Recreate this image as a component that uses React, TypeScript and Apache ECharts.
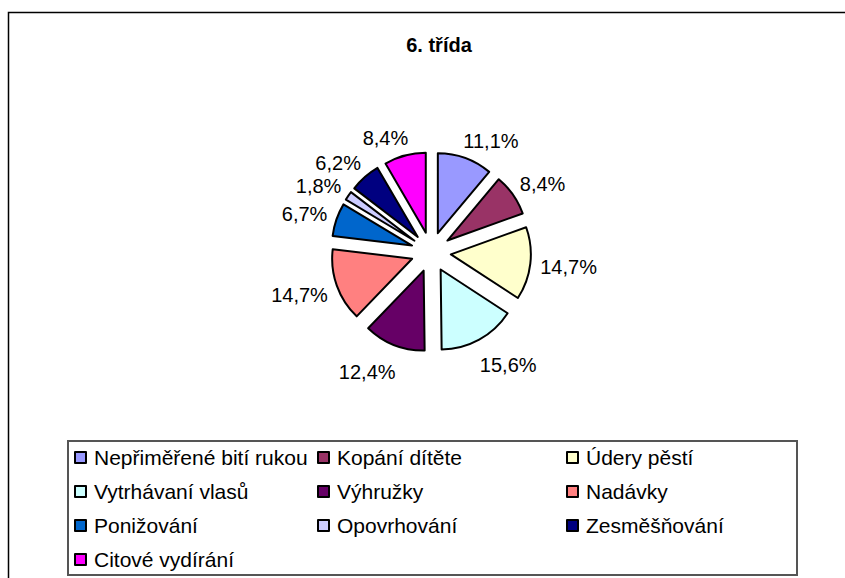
import React, { useEffect, useRef } from "react";
import * as echarts from "echarts";

const TITLE = "6. třída";
const categories = [
  "Nepřiměřené bití rukou",
  "Kopání dítěte",
  "Údery pěstí",
  "Vytrhávaní vlasů",
  "Výhružky",
  "Nadávky",
  "Ponižování",
  "Opovrhování",
  "Zesměšňování",
  "Citové vydírání",
];
const values = [11.1, 8.4, 14.7, 15.6, 12.4, 14.7, 6.7, 1.8, 6.2, 8.4];
const colors = [
  "#9999FF",
  "#993366",
  "#FFFFCC",
  "#CCFFFF",
  "#660066",
  "#FF8080",
  "#0066CC",
  "#CCCCFF",
  "#000080",
  "#FF00FF",
];
const legendColumns = [
  [categories[0], categories[3], categories[6], categories[9]],
  [categories[1], categories[4], categories[7]],
  [categories[2], categories[5], categories[8]],
];
const legendColumnLeft = [74, 317, 566];

const FONT = "'Liberation Sans', Arial, Helvetica, sans-serif";

export default function App() {
  const ref = useRef<HTMLDivElement>(null);
  useEffect(() => {
    if (!ref.current) return;
    const chart = echarts.init(ref.current, null, { renderer: "svg" });
    const total = values.reduce((a, b) => a + b, 0);
    // mid angle of each slice (radians, measured clockwise from 12 o'clock)
    const midAngles: number[] = [];
    let acc = 0;
    values.forEach((v) => {
      midAngles.push(((acc + v / 2) / total) * Math.PI * 2);
      acc += v;
    });
    const data = categories.map((name, i) => ({
      name,
      value: values[i],
      selected: true,
      itemStyle: { color: colors[i] },
    }));
    chart.setOption({
      animation: false,
      backgroundColor: "#ffffff",
      title: {
        text: TITLE,
        left: 434,
        textAlign: "center",
        top: 30,
        textStyle: {
          fontFamily: FONT,
          fontSize: 20,
          fontWeight: "bold",
          color: "#000",
        },
      },
      legend: legendColumns.map((col, i) => ({
        data: col,
        orient: "vertical",
        left: legendColumnLeft[i],
        top: 447,
        padding: 0,
        itemGap: 13,
        itemWidth: 11,
        itemHeight: 11,
        icon: "rect",
        selectedMode: false,
        itemStyle: { borderColor: "#000", borderWidth: 2 },
        textStyle: {
          fontFamily: FONT,
          fontSize: 21,
          lineHeight: 21,
          color: "#000",
          padding: [0, 0, 0, 3],
        },
      })),
      graphic: [
        {
          type: "rect",
          shape: { x: 8.5, y: 12.5, width: 900, height: 700 },
          style: { fill: "none", stroke: "#000", lineWidth: 1.5 },
          silent: true,
        },
        {
          type: "rect",
          shape: { x: 68, y: 441, width: 729, height: 134 },
          style: { fill: "none", stroke: "#555", lineWidth: 2 },
          silent: true,
        },
      ],
      series: [
        {
          type: "pie",
          center: [431, 252],
          radius: 80,
          startAngle: 90,
          clockwise: true,
          selectedMode: "multiple",
          selectedOffset: 20,
          avoidLabelOverlap: false,
          minShowLabelAngle: 0,
          emphasis: { disabled: true },
          itemStyle: { borderColor: "#000", borderWidth: 2 },
          select: { itemStyle: { borderColor: "#000", borderWidth: 2 } },
          label: {
            show: true,
            position: "outside",
            distanceToLabelLine: -8,
            fontFamily: FONT,
            fontSize: 20,
            lineHeight: 20,
            color: "#000",
            formatter: (p: any) => p.value.toFixed(1).replace(".", ",") + "%",
          },
          labelLine: { show: false, length: 18, length2: 0 },
          labelLayout: (p: any) => ({
            hideOverlap: false,
            moveOverlap: false,
            dy: 11 * Math.max(0, -Math.cos(midAngles[p.dataIndex])),
          }),
          data,
        },
      ],
    });
    return () => chart.dispose();
  }, []);
  return (
    <div
      ref={ref}
      style={{
        position: "fixed",
        left: 0,
        top: 0,
        width: 845,
        height: 578,
        background: "#fff",
      }}
    />
  );
}
